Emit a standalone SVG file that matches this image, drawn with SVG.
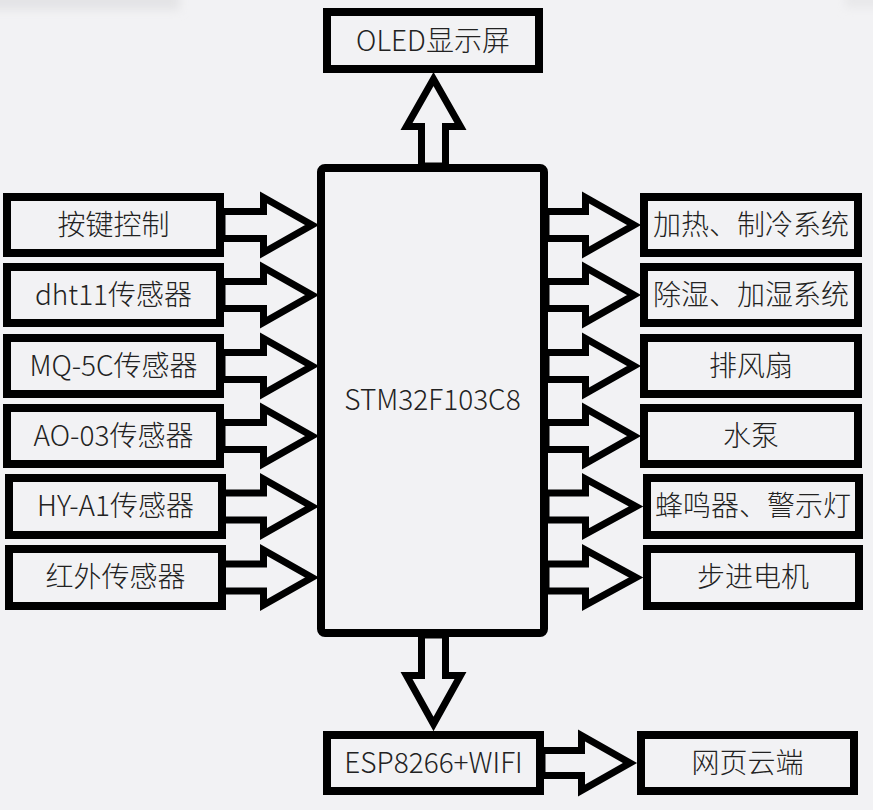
<svg xmlns="http://www.w3.org/2000/svg" width="873" height="810" viewBox="0 0 873 810">
<defs>
<style>
.box{fill:#f2f2f4;stroke:#000;stroke-width:8}
.arr{fill:#f2f2f4;stroke:#000;stroke-width:7;stroke-linejoin:miter;stroke-miterlimit:10}
.t{font-family:"Noto Sans CJK SC","Noto Sans",sans-serif;font-size:28px;font-weight:300;fill:#222;text-anchor:middle}
</style>
<filter id="blur" x="-20%" y="-100%" width="140%" height="300%"><feGaussianBlur stdDeviation="5"/></filter>
</defs>
<rect x="0" y="0" width="873" height="810" fill="#f2f2f4"/>
<rect x="-20" y="-10" width="200" height="20" fill="#e4e4e6" filter="url(#blur)"/>
<rect x="845" y="-10" width="40" height="18" fill="#e8e8ea" filter="url(#blur)"/>

<g id="connectors">
<polygon class="arr" points="421.5,166 421.5,126.5 406.5,126.5 433.5,79 460.5,126.5 445.5,126.5 445.5,166"/>
<polygon class="arr" points="421.5,635 421.5,675.5 406.5,675.5 433.5,724 460.5,675.5 445.5,675.5 445.5,635"/>
<polygon class="arr" points="222,211.5 263.5,211.5 263.5,197.5 312,225 263.5,252.5 263.5,238.5 222,238.5"/>
<polygon class="arr" points="222,281.5 263.5,281.5 263.5,267.5 312,295 263.5,322.5 263.5,308.5 222,308.5"/>
<polygon class="arr" points="222,352.5 263.5,352.5 263.5,338.5 312,366 263.5,393.5 263.5,379.5 222,379.5"/>
<polygon class="arr" points="222,422.5 263.5,422.5 263.5,408.5 312,436 263.5,463.5 263.5,449.5 222,449.5"/>
<polygon class="arr" points="222,493 263.5,493 263.5,479 312,506.5 263.5,534 263.5,520 222,520"/>
<polygon class="arr" points="222,564 263.5,564 263.5,550 312,577.5 263.5,605 263.5,591 222,591"/>
<polygon class="arr" points="546,211.5 585.5,211.5 585.5,197.5 634,225 585.5,252.5 585.5,238.5 546,238.5"/>
<polygon class="arr" points="546,281.5 585.5,281.5 585.5,267.5 634,295 585.5,322.5 585.5,308.5 546,308.5"/>
<polygon class="arr" points="546,352.5 585.5,352.5 585.5,338.5 634,366 585.5,393.5 585.5,379.5 546,379.5"/>
<polygon class="arr" points="546,422.5 585.5,422.5 585.5,408.5 634,436 585.5,463.5 585.5,449.5 546,449.5"/>
<polygon class="arr" points="546,493 585.5,493 585.5,479 636,506.5 585.5,534 585.5,520 546,520"/>
<polygon class="arr" points="546,564 585.5,564 585.5,550 636,577.5 585.5,605 585.5,591 546,591"/>
<polygon class="arr" points="542,750.5 581.5,750.5 581.5,735.5 630,763 581.5,790.5 581.5,775.5 542,775.5"/>
</g>

<g id="mcu">
<rect class="box" x="321" y="168" width="223" height="465" rx="4"/>
<text class="t" x="432.5" y="410">STM32F103C8</text>
</g>

<g id="oled">
<rect class="box" x="327" y="12" width="212" height="57"/>
<text class="t" x="433" y="51">OLED显示屏</text>
</g>

<g id="in1"><rect class="box" x="7" y="197" width="213" height="56"/><text class="t" x="113.5" y="235">按键控制</text></g>
<g id="in2"><rect class="box" x="7" y="267" width="213" height="56"/><text class="t" x="113.5" y="305">dht11传感器</text></g>
<g id="in3"><rect class="box" x="7" y="338" width="213" height="56"/><text class="t" x="113.5" y="376">MQ-5C传感器</text></g>
<g id="in4"><rect class="box" x="7" y="408" width="213" height="56"/><text class="t" x="113.5" y="446">AO-03传感器</text></g>
<g id="in5"><rect class="box" x="9" y="478" width="213" height="57"/><text class="t" x="115.5" y="516">HY-A1传感器</text></g>
<g id="in6"><rect class="box" x="9" y="549" width="213" height="57"/><text class="t" x="115.5" y="587">红外传感器</text></g>

<g id="out1"><rect class="box" x="644" y="197" width="214" height="56"/><text class="t" x="751" y="235">加热、制冷系统</text></g>
<g id="out2"><rect class="box" x="644" y="267" width="214" height="56"/><text class="t" x="751" y="305">除湿、加湿系统</text></g>
<g id="out3"><rect class="box" x="644" y="338" width="214" height="56"/><text class="t" x="751" y="376">排风扇</text></g>
<g id="out4"><rect class="box" x="644" y="408" width="214" height="56"/><text class="t" x="751" y="446">水泵</text></g>
<g id="out5"><rect class="box" x="647" y="478" width="212" height="57"/><text class="t" x="753" y="516">蜂鸣器、警示灯</text></g>
<g id="out6"><rect class="box" x="647" y="549" width="212" height="57"/><text class="t" x="753" y="587">步进电机</text></g>

<g id="esp">
<rect class="box" x="327" y="735" width="213" height="56"/>
<text class="t" x="433.5" y="773">ESP8266+WIFI</text>
</g>
<g id="cloud">
<rect class="box" x="641" y="735" width="213" height="56"/>
<text class="t" x="747.5" y="773">网页云端</text>
</g>
</svg>
